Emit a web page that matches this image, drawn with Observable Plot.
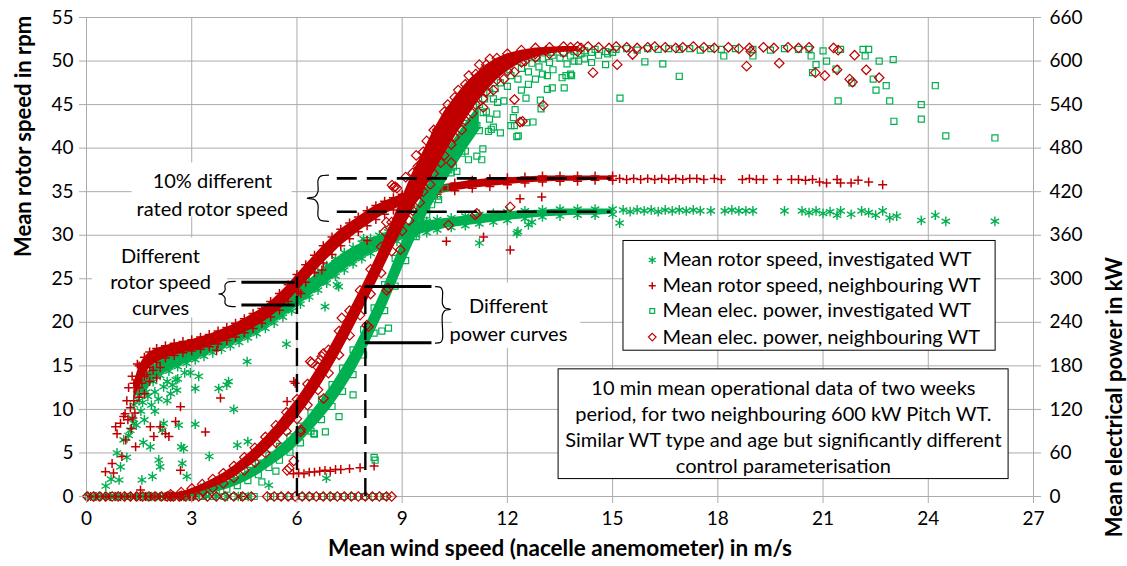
<!DOCTYPE html>
<html><head><meta charset="utf-8">
<script src="https://cdn.jsdelivr.net/npm/d3@7"></script>
<script src="https://cdn.jsdelivr.net/npm/@observablehq/plot@0.6"></script>
<style>
body{margin:0;background:#fff;}
#chart svg{font-family:Lato,"Open Sans",sans-serif;}
#chart svg text{fill:#000;}
</style></head><body><div id="chart"></div>
<script>
// ---------- axes ----------
const windTicks = [0,3,6,9,12,15,18,21,24,27];
const rpmTicks = [0,5,10,15,20,25,30,35,40,45,50,55];
const powerTickLabels = ["0","60","120","180","240","300","360","420","480","540","600","660"];
const kwPerRpm = 12; // 660 kW on the right axis aligns with 55 rpm on the left

// ---------- colours ----------
const green = "#00B050";
const red = "#C00000";
const gridColor = "#ababab";

// ---------- series names ----------
const seriesNames = [
  "Mean rotor speed, investigated WT",
  "Mean rotor speed, neighbouring WT",
  "Mean elec. power, investigated WT",
  "Mean elec. power, neighbouring WT"
];

// ---------- dense bands [wind m/s, low, high] ----------
const bandRotorInv = [
  [1.5,11.0,12.8],[1.7,12.0,14.0],[1.9,13.2,15.0],[2.1,13.9,15.6],[2.35,14.4,16.1],
  [2.6,14.9,16.5],[2.85,15.3,16.9],[3.1,15.7,17.3],[3.35,16.1,17.7],[3.6,16.5,18.1],[3.85,16.9,18.5],
  [4.1,17.3,18.9],[4.35,17.7,19.4],[4.6,18.2,19.9],[4.85,18.7,20.4],[5.1,19.3,21.1],[5.35,19.9,21.8],
  [5.6,20.6,22.6],[5.85,21.3,23.3],[6.1,22.1,24.1],[6.35,22.9,24.9],[6.6,23.7,25.7],[6.85,24.5,26.5],
  [7.1,25.3,27.3],[7.35,26.0,28.0],[7.6,26.7,28.6],[7.85,27.3,29.1],[8.1,27.9,29.6],[8.35,28.4,30.0],
  [8.6,28.9,30.4],[8.85,29.3,30.8],[9.1,29.6,31.1],[9.4,30.0,31.4],[9.7,30.3,31.6],[10.0,30.6,31.8],
  [10.4,30.9,32.0],[10.8,31.1,32.2],[11.2,31.3,32.4],[11.6,31.5,32.5],[12.0,31.7,32.7],[12.5,31.9,32.8],
  [13.0,32.1,32.9],[13.5,32.2,33.0],[14.0,32.3,33.0],[14.5,32.3,33.0],[15.0,32.4,33.0]
];
const bandRotorNb = [
  [1.35,11.0,13.0],[1.5,12.5,15.0],[1.65,13.8,16.0],[1.8,14.8,16.6],[2.0,15.4,17.0],
  [2.25,15.9,17.3],[2.5,16.2,17.6],[2.75,16.5,17.8],[3.0,16.7,18.0],[3.25,16.9,18.3],[3.5,17.2,18.6],
  [3.75,17.5,19.0],[4.0,17.9,19.4],[4.25,18.3,19.9],[4.5,18.8,20.4],[4.75,19.3,21.0],[5.0,19.9,21.6],
  [5.25,20.6,22.4],[5.5,21.4,23.3],[5.75,22.4,24.3],[6.0,23.5,25.5],[6.25,24.6,26.6],[6.5,25.7,27.7],
  [6.75,26.8,28.8],[7.0,27.8,29.8],[7.25,28.8,30.7],[7.5,29.6,31.4],[7.75,30.4,32.1],[8.0,31.1,32.8],
  [8.25,31.8,33.4],[8.5,32.4,33.9],[8.75,32.9,34.3],[9.0,33.4,34.7],[9.3,33.9,35.1],[9.6,34.3,35.4],
  [10.0,34.7,35.7],[10.5,35.1,36.0],[11.0,35.4,36.3],[11.5,35.6,36.5],[12.0,35.8,36.6],[12.5,36.0,36.7],
  [13.0,36.1,36.8],[13.5,36.2,36.8],[14.0,36.2,36.8],[14.5,36.3,36.8],[15.0,36.3,36.8]
];
const bandPowerInv = [
  [2.8,0,3],[3.1,1,6],[3.4,3,10],[3.7,6,15],[4.0,10,20],[4.3,15,27],[4.6,22,36],[4.9,30,46],
  [5.2,40,57],[5.5,50,69],[5.8,61,82],[6.1,74,97],[6.4,90,115],[6.7,106,134],[7.0,124,154],
  [7.3,145,177],[7.6,168,202],[7.9,195,230],[8.2,225,260],[8.5,256,292],[8.8,290,328],[9.1,325,362],
  [9.4,358,396],[9.7,388,426],[10.0,414,454],[10.4,446,486],[10.8,476,514],[11.2,504,540]
];
const bandPowerNb = [
  [2.4,0,3],[2.7,1,6],[3.0,3,11],[3.3,7,17],[3.6,12,24],[3.9,18,32],[4.2,26,42],[4.5,36,54],
  [4.8,47,67],[5.1,60,82],[5.4,74,98],[5.7,90,116],[6.0,107,134],[6.3,126,155],[6.6,147,178],
  [6.9,170,202],[7.2,195,228],[7.5,222,256],[7.8,250,284],[8.1,279,313],[8.4,308,344],[8.7,338,378],
  [9.0,366,412],[9.3,394,446],[9.6,420,475],[9.9,445,505],[10.2,470,530],[10.5,495,550],
  [10.8,518,568],[11.1,540,582],[11.4,558,595],[11.7,574,604],[12.0,586,610],[12.4,598,615],
  [12.8,605,618],[13.2,610,619],[13.6,612,620],[14.0,613,620]
];

// ---------- stand-still points (value 0) ----------
const rotorInvZeroWind = [0.05,0.21,0.34,0.52,0.66,0.81,0.97,1.1,1.26,1.41,1.55,1.72,1.86,2.0,2.17,2.31,2.46,2.62,2.77,2.93,3.42,3.71,4.02,4.33,4.61];
const rotorNbZeroWind = [0.0,0.12,0.27,0.4,0.55,0.68,0.83,0.97,1.1,1.26,1.4,1.53,1.68,1.82,1.95,2.1,2.24,2.38,2.52,2.67,2.8,2.94,3.05,4.4];
const powerInvZeroWind = [0.05,0.31,0.6,0.88,1.2,1.52,1.8,2.1,2.42,2.7,3.02,3.31,3.6,3.92,4.2,4.5,4.78,5.25,5.52,5.8,6.12,6.4,6.7,7.02,7.3,7.61,7.9,8.2,8.48];
const powerNbZeroWind = [0.02,0.2,0.38,0.55,0.73,0.9,1.08,1.25,1.43,1.6,1.78,1.95,2.13,2.3,2.48,2.65,2.83,3.0,3.2,3.45,3.7,3.95,4.2,4.45,4.7,5.15,5.35,5.55,5.75,5.95,6.15,6.35,6.55,6.75,6.95,7.15,7.35,7.55,7.75,7.95,8.15,8.35,8.55,8.7];

// ---------- scattered points [wind m/s, rpm] ----------
const rotorInvPoints = [
  [0.55,1.2],[0.7,2.0],[0.87,5.0],[0.93,1.9],[0.97,3.4],[1.06,6.5],[1.15,4.5],[1.25,7.6],[1.35,8.4],
  [1.2,7.0],[1.3,9.0],[1.35,10.5],[1.42,8.2],[1.45,11.8],[1.55,9.8],[1.6,10.8],[1.65,8.8],[1.75,11.5],
  [1.85,10.5],[1.95,12.0],[2.05,11.2],[2.2,12.6],[2.3,13.2],[2.4,11.8],[2.6,13.5],[2.8,14.2],
  [1.58,1.9],[1.62,6.2],[1.82,5.7],[1.88,2.3],[1.95,9.8],[2.06,4.2],[2.1,3.4],[2.16,7.6],[2.2,8.4],
  [2.3,11.0],[2.45,12.8],[2.55,13.4],[2.58,12.2],[2.63,8.2],[2.7,5.7],[2.73,3.8],[2.77,5.5],[2.86,2.3],
  [2.96,14.2],[3.1,12.4],[3.1,8.3],[3.2,13.8],[3.35,1.2],[3.5,4.6],[3.77,12.4],[4.0,12.8],[4.05,13.2],
  [4.2,10.0],[4.3,5.9],[4.58,15.5],[4.6,6.3],[5.2,1.3],[5.7,17.5],[6.8,21.8],[6.84,2.1],[7.14,24.3],
  [7.19,24.1],[7.9,29.6],[11.2,29.1],[12.27,30.2],[12.3,30.4],[12.6,31.2],[12.7,31.5],[15.2,31.4],
  [15.3,32.9],[15.5,32.7],[15.7,32.9],[15.9,32.8],[16.1,32.9],[16.3,32.7],[16.5,32.9],[16.7,32.8],
  [16.9,32.9],[17.1,32.8],[17.3,32.9],[17.5,32.8],[17.8,32.8],[18.2,32.8],[18.4,32.9],[18.6,32.8],
  [18.8,32.8],[19.0,32.8],[19.9,32.8],[20.4,32.8],[20.6,32.6],[20.8,32.8],[21.0,32.5],[21.2,32.7],
  [21.4,32.3],[21.5,32.8],[21.8,32.4],[22.1,32.8],[22.3,32.6],[22.5,32.3],[22.7,32.8],[22.9,32.0],
  [23.1,32.2],[23.8,31.7],[24.2,32.3],[24.5,31.6],[25.9,31.6]
];
const rotorNbPoints = [
  [0.54,2.85],[0.73,3.8],[0.77,2.7],[0.83,8.0],[0.87,7.2],[0.97,8.4],[1.01,4.6],[1.06,9.2],[1.12,6.5],
  [1.1,9.5],[1.15,11.0],[1.2,12.5],[1.25,10.2],[1.3,13.8],[1.38,9.6],[1.45,15.2],[1.5,11.4],[1.58,13.0],
  [1.65,11.8],[1.72,14.0],[1.8,13.2],[1.9,14.5],[2.0,13.6],[2.1,14.8],[1.18,8.8],[1.28,7.8],[1.32,9.0],
  [1.4,5.7],[1.54,0.75],[1.82,8.0],[1.92,6.9],[2.1,8.0],[2.25,7.2],[2.35,6.9],[2.54,8.6],[2.68,10.3],
  [2.68,3.0],[3.39,7.4],[3.71,16.8],[3.82,11.3],[5.72,10.9],[5.91,13.2],[5.95,13.0],[6.05,23.5],
  [6.11,23.3],[6.71,26.0],[8.0,29.4],[10.26,29.3],[11.32,29.8],[12.08,28.3],[12.36,34.2],[12.98,34.4],
  [5.9,2.6],[6.05,2.7],[6.2,2.6],[6.35,2.8],[6.5,2.8],[6.65,2.9],[6.8,3.0],[6.95,2.9],[7.1,3.1],
  [7.25,3.1],[7.5,3.2],[7.8,3.3],[8.2,3.5],
  [15.2,36.5],[15.4,36.4],[15.6,36.5],[15.8,36.4],[16.0,36.5],[16.2,36.4],[16.4,36.5],[16.6,36.4],
  [16.8,36.5],[17.0,36.4],[17.2,36.5],[17.4,36.5],[17.6,36.4],[17.9,36.5],[18.1,36.4],[18.7,36.4],
  [18.9,36.5],[19.1,36.4],[19.3,36.4],[19.7,36.4],[20.1,36.4],[20.3,36.4],[20.5,36.3],[20.7,36.4],
  [20.9,36.1],[21.1,36.0],[21.4,36.4],[21.5,36.0],[21.8,36.0],[22.0,36.3],[22.3,36.1],[22.7,35.8]
];
// ---------- scattered points [wind m/s, kW] ----------
const powerInvPoints = [
  [3.5,15],[4.1,30],[4.6,50],[5.0,20],[5.4,35],[6.48,87],[6.81,89],[6.5,86],[8.2,54],[8.23,50],
  [8.42,228],[8.61,232],[7.2,110],[7.6,140],
  [9.52,377],[9.7,395],[9.84,402],[9.9,418],[10.04,409],[10.08,432],[10.22,425],[10.33,450],[10.46,454],
  [10.56,448],[10.42,520],[10.54,534],[10.7,473],[10.78,543],[10.89,464],[10.9,498],[11.0,506],
  [11.07,570],[11.13,469],[11.13,511],[11.25,561],[11.27,464],[11.3,479],[11.31,529],[11.46,503],
  [11.49,520],[11.54,506],[11.6,509],[11.72,543],[11.8,501],[12.1,511],[12.17,522],[12.2,511],
  [12.22,533],[12.27,496],[12.31,497],[12.53,549],[12.55,515],[12.73,516],[12.94,546],[12.96,534],
  [13.14,561],[13.14,580],[13.28,563],[13.56,577],[13.62,563],[13.67,580],[13.8,582],[13.83,580],
  [11.5,556],[11.8,570],[12.1,580],[12.4,590],[12.7,597],[13.0,603],[13.3,608],[13.6,611],[13.9,613],
  [11.6,548],[12.0,565],[12.3,575],[12.6,585],[12.9,592],[13.2,598],[13.5,604],[13.8,607],[14.1,610],
  [14.4,612],[11.4,530],[11.9,545],[12.4,560],[12.8,575],[13.3,588],[13.7,596],[14.2,603],[14.6,608],
  [15.0,612],[11.7,527],[12.6,568],[13.0,582],[13.9,600],[14.4,598],[11.0,545],[11.3,565],[11.9,592],
  [12.2,600],[12.6,607],[11.35,548],[11.65,562],[12.05,588],[12.45,598],[12.85,604],[13.25,612],
  [14.03,600],[14.8,595],[14.86,610],[15.21,549],[15.92,599],[16.43,596],[16.9,579],[18.17,607],
  [19.0,607],[20.66,607],[20.7,584],[20.8,595],[21.1,600],[21.37,589],[21.43,545],[21.82,570],
  [22.14,616],[22.2,607],[22.3,616],[22.43,575],[22.51,560],[22.6,600],[22.8,566],[22.9,545],
  [23.0,602],[23.02,517],[23.8,540],[23.8,520],[24.2,566],[24.5,497],[25.9,494],
  [14.2,614],[14.5,616],[14.8,613],[15.1,616],[15.4,617],[15.7,615],[16.0,617],[16.3,616],[16.6,617],
  [16.9,616],[17.2,617],[17.5,615],[17.8,617],[18.1,616],[18.5,617],[19.0,616],[19.5,615],[19.9,617],
  [20.3,616],[20.6,616],[21.0,614],[21.5,616]
];
const powerNbPoints = [
  [5.72,36],[5.78,39],[5.91,49],[6.1,89],[6.11,92],[6.38,186],[6.43,184],[6.67,188],[6.71,193],
  [6.75,197],[6.76,135],[7.28,246],[7.99,236],[8.04,234],[8.5,365],[8.55,378],[8.56,284],[8.6,287],
  [8.71,429],[8.76,426],[8.8,427],[8.85,425],[8.95,340],[10.32,374],[10.4,460],[11.08,388],[11.13,390],
  [12.08,399],[12.36,516],[10.72,549],[11.31,536],[11.34,570],[12.2,547],[12.43,517],[13.02,539],
  [9.4,470],[9.7,490],[10.0,505],[10.3,540],[10.6,560],[10.9,580],[11.2,595],[11.5,603],[9.2,380],
  [9.5,405],[9.8,430],[10.1,460],[10.4,485],[10.7,505],[11.0,528],[11.3,548],[11.6,560],[11.9,575],
  [12.2,585],[9.1,440],[9.45,455],[10.6,530],[11.5,580],[12.5,600],[12.8,610],[13.1,614],
  [14.44,584],[15.13,595],[15.57,609],[18.82,593],[18.94,613],[19.75,597],[20.78,584],[21.05,580],
  [21.4,588],[21.43,615],[21.76,575],[21.84,571],[21.9,608],[22.23,588],[22.6,577],
  [13.8,619],[14.1,618],[14.3,620],[14.6,619],[14.9,618],[15.1,620],[15.4,619],[15.7,618],[16.0,619],
  [16.2,620],[16.5,619],[16.8,618],[17.0,619],[17.3,620],[17.6,619],[17.9,618],[18.3,619],[18.6,617],
  [18.9,618],[19.3,619],[19.6,618],[20.0,619],[20.3,618],[20.6,619],[21.3,618]
];

// ---------- annotations (data coordinates) ----------
const annoTexts = [
  {x: 3.59, y: 34.8, text: "10% different\nrated rotor speed"},
  {x: 2.11, y: 24.75, text: "Different\nrotor speed\ncurves"},
  {x: 12.03, y: 20.46, text: "Different\npower curves"}
];
const annoBoxes = [
  {x1: 1.3, x2: 5.86, y1: 32.1, y2: 38.3},
  {x1: 0.17, x2: 4.02, y1: 20.5, y2: 29.68},
  {x1: 10.44, x2: 14.09, y1: 17.0, y2: 24.5}
];
const ratedDash = [{y: 36.53, x1: 7.15, x2: 14.95}, {y: 32.7, x1: 7.15, x2: 14.95}];
const bracketSolid = [
  {y: 24.6, x1: 4.43, x2: 5.95}, {y: 22.0, x1: 4.43, x2: 5.95},
  {y: 24.1, x1: 7.95, x2: 9.85}, {y: 17.66, x1: 7.95, x2: 9.85}
];
const bracketDashV = [{x: 6.0, y1: 0, y2: 25.2}, {x: 7.95, y1: 0, y2: 24.1}];
const braces = [
  [[6.9,36.9],[6.66,36.75],[6.6,36.3],[6.6,35.0],[6.52,34.45],[6.29,34.25],[6.52,34.05],[6.6,33.5],[6.6,32.2],[6.66,31.75],[6.9,31.6]],
  [[4.24,24.7],[4.02,24.6],[3.95,24.3],[3.95,23.7],[3.88,23.35],[3.77,23.25],[3.88,23.15],[3.95,22.8],[3.95,22.2],[4.02,21.9],[4.24,21.8]],
  [[9.95,24.1],[10.1,24.0],[10.15,23.6],[10.15,22.1],[10.22,21.65],[10.38,21.5],[10.22,21.35],[10.15,20.9],[10.15,18.1],[10.1,17.7],[9.95,17.6]]
];
const legendBox = {x1: 15.31, x2: 25.92, y1: 16.74, y2: 29.34};
const legendRows = [27.15, 24.2, 21.3, 18.3];
const legendSymbolX = 16.13, legendTextX = 16.42;
const noteBox = {x1: 13.46, x2: 26.29, y1: 2.0, y2: 14.6};
const noteText = "10 min mean operational data of two weeks\nperiod, for two neighbouring 600 kW Pitch WT.\nSimilar WT type and age but significantly different\ncontrol parameterisation";
const noteAt = {x: 19.87, y: 8.1};

const styles = [
  {symbol: "asterisk", color: green, r: 4.6, sw: 1.4},
  {symbol: "plus", color: red, r: 3.0, sw: 1.5},
  {symbol: "square", color: green, r: 3.4, sw: 1.2},
  {symbol: "diamond2", color: red, r: 4.3, sw: 1.2}
];
function dots(data, s, yf) {
  return Plot.dot(data, {x: d => d[0], y: yf, symbol: s.symbol, stroke: s.color, fill: "none", r: s.r, strokeWidth: s.sw});
}
function seriesMarks(band, zeros, pts, s, div) {
  return [
    Plot.areaY(band, {x: d => d[0], y1: d => d[1] / div, y2: d => d[2] / div, fill: s.color, curve: "linear"}),
    dots(band, s, d => d[1] / div),
    dots(band, s, d => d[2] / div),
    dots(zeros.map(w => [w, 0]), s, d => d[1]),
    dots(pts, s, d => d[1] / div)
  ];
}

const chart = Plot.plot({
  width: 1127, height: 566,
  marginLeft: 86, marginRight: 94, marginTop: 17, marginBottom: 70,
  style: {fontSize: "19px", fontFamily: "Lato, sans-serif", background: "#fff"},
  x: {domain: [0, 27]},
  y: {domain: [0, 55]},
  marks: [
    Plot.gridX(windTicks, {stroke: gridColor, strokeOpacity: 1}),
    Plot.gridY(rpmTicks, {stroke: gridColor, strokeOpacity: 1}),
    Plot.ruleY([0], {stroke: gridColor}),
    Plot.ruleX([0, 27], {stroke: gridColor}),
    ...seriesMarks(bandRotorInv, rotorInvZeroWind, rotorInvPoints, styles[0], 1),
    ...seriesMarks(bandRotorNb, rotorNbZeroWind, rotorNbPoints, styles[1], 1),
    ...seriesMarks(bandPowerInv, powerInvZeroWind, powerInvPoints, styles[2], kwPerRpm),
    ...seriesMarks(bandPowerNb, powerNbZeroWind, powerNbPoints, styles[3], kwPerRpm),
    // annotations
    Plot.rect(annoBoxes, {x1: "x1", x2: "x2", y1: "y1", y2: "y2", fill: "#fff"}),
    Plot.text(annoTexts.slice(0,1), {x: "x", y: "y", text: "text", fontSize: 20, lineHeight: 1.38}),
    Plot.text(annoTexts.slice(1,2), {x: "x", y: "y", text: "text", fontSize: 20, lineHeight: 1.3}),
    Plot.text(annoTexts.slice(2,3), {x: "x", y: "y", text: "text", fontSize: 20, lineHeight: 1.38}),
    Plot.ruleY(ratedDash, {y: "y", x1: "x1", x2: "x2", stroke: "#000", strokeWidth: 2.6, strokeDasharray: "20,10"}),
    Plot.ruleY(bracketSolid, {y: "y", x1: "x1", x2: "x2", stroke: "#000", strokeWidth: 3}),
    Plot.ruleX(bracketDashV, {x: "x", y1: "y1", y2: "y2", stroke: "#000", strokeWidth: 2.4, strokeDasharray: "18,8"}),
    ...braces.map(b => Plot.line(b, {x: d => d[0], y: d => d[1], stroke: "#000", strokeWidth: 1.2, curve: "catmull-rom"})),
    // legend
    Plot.rect([legendBox], {x1: "x1", x2: "x2", y1: "y1", y2: "y2", fill: "#fff", stroke: "#000", strokeWidth: 1}),
    ...styles.map((s, i) => Plot.dot([legendRows[i]], {x: () => legendSymbolX, y: d => d, symbol: s.symbol, stroke: s.color, fill: "none", r: s.r * 0.8, strokeWidth: s.sw})),
    Plot.text(seriesNames, {x: () => legendTextX, y: (d, i) => legendRows[i], text: d => d, textAnchor: "start", fontSize: 20}),
    // note
    Plot.rect([noteBox], {x1: "x1", x2: "x2", y1: "y1", y2: "y2", fill: "#fff", stroke: "#000", strokeWidth: 1}),
    Plot.text([noteText], {x: () => noteAt.x, y: () => noteAt.y, text: d => d, fontSize: 20, lineHeight: 1.3}),
    // axes
    Plot.axisX(windTicks, {tickSize: 7, tickPadding: 8, stroke: gridColor, fill: "#000", label: null}),
    Plot.axisY(rpmTicks, {anchor: "left", tickSize: 7, tickPadding: 6, stroke: gridColor, fill: "#000", label: null}),
    Plot.axisY(rpmTicks, {anchor: "right", tickSize: 7, tickPadding: 9, stroke: gridColor, fill: "#000", label: null,
      tickFormat: d => powerTickLabels[rpmTicks.indexOf(d)]}),
    Plot.text(["Mean wind speed (nacelle anemometer) in m/s"], {frameAnchor: "bottom", dy: 59, fontWeight: "bold", fontSize: 22.5}),
    Plot.text(["Mean rotor speed in rpm"], {frameAnchor: "left", dx: -63, rotate: -90, fontWeight: "bold", fontSize: 22}),
    Plot.text(["Mean electrical power in kW"], {frameAnchor: "right", dx: 81, rotate: -90, fontWeight: "bold", fontSize: 22})
  ]
});
document.getElementById("chart").appendChild(chart);
</script></body></html>
